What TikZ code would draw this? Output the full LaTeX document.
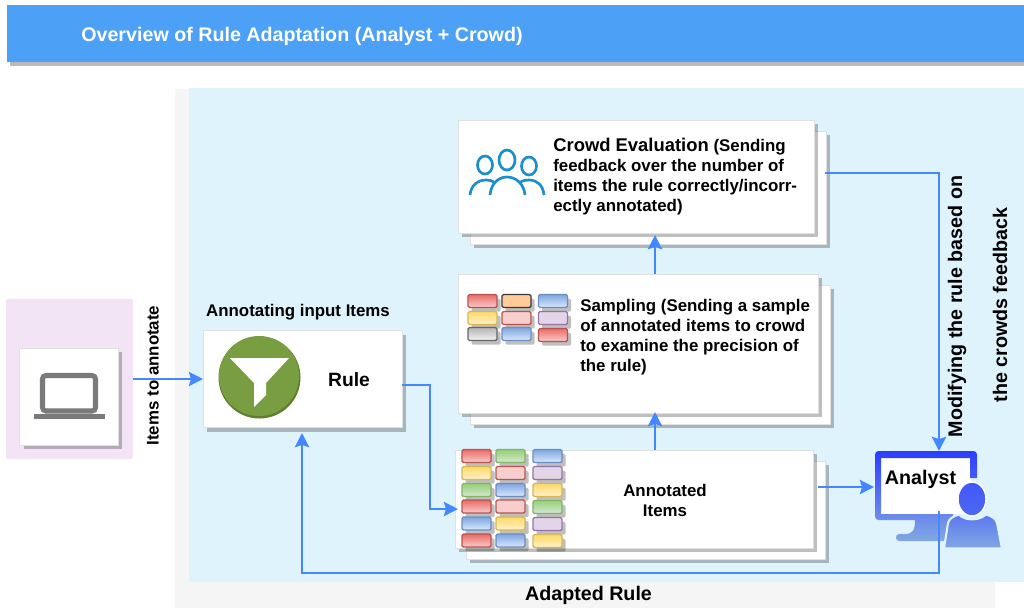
\documentclass[tikz,border=0pt]{standalone}
\usepackage{fontspec}
\setmainfont{Liberation Sans}
\usepackage{xcolor}
\usetikzlibrary{arrows.meta,positioning,shadows,calc}

\definecolor{headblue}{HTML}{4CA0F5}
\definecolor{areablue}{HTML}{DFF3FD}
\definecolor{areapurple}{HTML}{F2E4F5}
\definecolor{flowblue}{HTML}{4488FF}
\definecolor{iconblue}{HTML}{1B8FCB}
\definecolor{laptopgrey}{HTML}{7A7A7A}
\definecolor{funnelgreen}{HTML}{799E41}
\definecolor{funneldark}{HTML}{5F7F30}
\definecolor{screentop}{HTML}{2B3DFF}
\definecolor{screenbottom}{HTML}{82A8E2}
\definecolor{redline}{HTML}{B85450}
\definecolor{redtop}{HTML}{EA6B66}
\definecolor{redlow}{HTML}{F8CECC}
\definecolor{yellowline}{HTML}{D6B656}
\definecolor{yellowtop}{HTML}{FFD966}
\definecolor{yellowlow}{HTML}{FFF2CC}
\definecolor{greenline}{HTML}{82B366}
\definecolor{greentop}{HTML}{97D077}
\definecolor{greenlow}{HTML}{D5E8D4}
\definecolor{blueline}{HTML}{6C8EBF}
\definecolor{bluetop}{HTML}{7EA6E0}
\definecolor{bluelow}{HTML}{DAE8FC}
\definecolor{purpleline}{HTML}{9673A6}
\definecolor{purplelow}{HTML}{E1D5E7}
\definecolor{orangeline}{HTML}{36393D}
\definecolor{orangelow}{HTML}{FFCC99}
\definecolor{greyline}{HTML}{666666}
\definecolor{greytop}{HTML}{B3B3B3}
\definecolor{greylow}{HTML}{F5F5F5}

\begin{document}
\begin{tikzpicture}[
  x=0.025cm, y=-0.025cm,
  panel/.style={rectangle, draw=black!12, fill=white, line width=0.7pt, inner sep=0pt,
    general shadow={fill=black, opacity=0.25, shadow xshift=2.5pt, shadow yshift=-3pt}},
  chip/.style={rectangle, rounded corners=1pt, line width=0.9pt, inner sep=0pt,
    minimum width=0.725cm, minimum height=0.325cm,
    general shadow={fill=black, opacity=0.25, shadow xshift=2.5pt, shadow yshift=-3pt}},
  redchip/.style={chip, draw=redline, top color=redtop, bottom color=redlow},
  pinkchip/.style={chip, draw=redline, fill=redlow},
  yellowchip/.style={chip, draw=yellowline, top color=yellowtop, bottom color=yellowlow},
  greenchip/.style={chip, draw=greenline, top color=greentop, bottom color=greenlow},
  bluechip/.style={chip, draw=blueline, top color=bluetop, bottom color=bluelow},
  purplechip/.style={chip, draw=purpleline, fill=purplelow},
  orangechip/.style={chip, draw=orangeline, fill=orangelow},
  greychip/.style={chip, draw=greyline, top color=greytop, bottom color=greylow},
  label/.style={font=\fontsize{12}{14.2}\selectfont\bfseries, align=center},
  blurb/.style={font=\fontsize{12}{14.2}\selectfont\bfseries, align=left, anchor=west, inner sep=0pt},
  arrow/.style={-{Stealth[length=10pt,width=10pt,inset=1.5pt]}, draw=flowblue, line width=1.9pt}
]
\useasboundingbox (0,0) rectangle (1024,608);

% Backgrounds
\node[rectangle, fill=black!4, minimum width=20.5cm, minimum height=12.975cm, inner sep=0pt] (greyarea) at (585,348.5) {};
\node[rectangle, fill=areablue, minimum width=20.875cm, minimum height=12.35cm, inner sep=0pt] (bluearea) at (606.5,335) {};
\node[rectangle, fill=areapurple, rounded corners=1pt, minimum width=3.175cm, minimum height=4cm, inner sep=0pt] (sourcearea) at (69.5,379) {};

% Title
\node[rectangle, fill=headblue, minimum width=25.425cm, minimum height=1.425cm, inner sep=0pt,
  general shadow={fill=black, opacity=0.27, shadow xshift=2.5pt, shadow yshift=-3pt}] (header) at (515.5,33.5) {};
\node[anchor=west, inner sep=0pt, text=white, font=\fontsize{14}{16}\selectfont\bfseries] (title) at (81,36) {Overview of Rule Adaptation (Analyst + Crowd)};

% Laptop
\node[panel, minimum width=2.45cm, minimum height=2.425cm] (source) at (69,396.5) {};
\draw[laptopgrey, line width=3.6pt, rounded corners=2.5pt] (42.5,375.5) rectangle (95.5,411);
\fill[laptopgrey] (34,414) rectangle (105,419);

% Rule
\node[panel, minimum width=4.95cm, minimum height=2.425cm] (rule) at (303,379) {};
\fill[funneldark] (259.5,377.5) circle (41);
\fill[funnelgreen] (259,376) circle (40);
\fill[white] (230,358) -- (289,358) -- (266,383) -- (266,395) -- (254,407) -- (254,383) -- cycle;
\node[label, font=\fontsize{13.7}{16}\selectfont\bfseries] (ruletext) at (349,379.5) {Rule};
\node[label] (ruletitle) at (298,312) {Annotating input Items};

% Crowd evaluation
\node[panel, minimum width=8.875cm, minimum height=2.825cm] (crowdback) at (648.5,187.5) {};
\node[panel, minimum width=8.875cm, minimum height=2.825cm] (crowd) at (636.5,176.5) {};
\node[blurb] (crowdtext) at (553,177) {{\fontsize{13.1}{14.2}\selectfont Crowd Evaluation} (Sending\\feedback over the number of\\items the rule correctly/incorr-\\ectly annotated)};
\begin{scope}[iconblue, line width=1.9pt]
  \draw (507,160) ellipse (8 and 10);
  \draw (485,165) ellipse (7.5 and 9);
  \draw (529,166) ellipse (7.5 and 9);
  \draw (470,195) .. controls (471,185) and (478,180) .. (486,180) .. controls (489,180) and (491,180.5) .. (494,182);
  \draw (490,195) .. controls (491,184) and (498,177) .. (507,177) .. controls (516,177) and (524,184) .. (525,195);
  \draw (520,182) .. controls (523,180.5) and (526,180) .. (529,180) .. controls (537,180) and (543,185) .. (544,195);
\end{scope}

% Sampling
\node[panel, minimum width=8.975cm, minimum height=3.475cm] (samplingback) at (650.5,354.5) {};
\node[panel, minimum width=8.975cm, minimum height=3.475cm] (sampling) at (638.5,343.5) {};
\node[blurb] (samplingtext) at (580,337) {Sampling (Sending a sample\\of annotated items to crowd\\to examine the precision of\\the rule)};
\foreach \cx/\cy/\kind [count=\i] in {
  482.5/301/redchip, 516.5/301/orangechip, 553/301/bluechip,
  482.5/318/yellowchip, 516.5/318/pinkchip, 553/318/purplechip,
  482.5/334/greychip, 516.5/334/bluechip, 553/335/redchip}
  \node[\kind] (samplechip\i) at (\cx,\cy) {};

% Annotated items
\node[panel, minimum width=8.95cm, minimum height=2.45cm] (annotatedback) at (646,510) {};
\node[panel, minimum width=8.95cm, minimum height=2.45cm] (annotated) at (634.5,499) {};
\node[label] (annotatedtext) at (665,500) {Annotated\\Items};
\foreach \cx/\cy/\kind [count=\i] in {
  476.5/456/redchip, 510.5/456/greenchip, 547.5/456/bluechip,
  476.5/473/yellowchip, 510.5/473/pinkchip, 547.5/473/purplechip,
  476.5/490/greenchip, 510.5/490/bluechip, 547.5/490/yellowchip,
  476.5/506.5/redchip, 510.5/506.5/pinkchip, 547.5/507/greenchip,
  476.5/523.5/bluechip, 510.5/523.5/yellowchip, 547.5/524/purplechip,
  476.5/540.5/redchip, 510.5/540.5/bluechip, 547.5/541/yellowchip}
  \node[\kind] (annotatedchip\i) at (\cx,\cy) {};

% Analyst
\fill[white] (881,458) rectangle (972,514);
\shade[top color=screentop, bottom color=screenbottom]
  [rounded corners=2.5pt] (977,478) -- (977,451) -- (875,451) -- (875,520) [sharp corners] -- (953,520) -- (953,514) -- (881,514) -- (881,458) -- (970,458) -- (970,478) -- cycle
  (915,520) .. controls (915,530) and (913,534) .. (905,534) -- (899,534) .. controls (895,534) and (895,541) .. (899,541) -- (948,541) -- (948,520) -- cycle;
\shade[top color=screentop!75!screenbottom, bottom color=screentop!60!screenbottom, draw=white, line width=1pt]
  (972,499) ellipse (14 and 17);
\shade[top color=screentop!45!screenbottom, bottom color=screenbottom, draw=areablue, line width=1.5pt]
  (944,548.5) -- (948,523) .. controls (949,519) and (953,516) .. (959,514.5) .. controls (965,521) and (979,521) .. (986,514.5) .. controls (992,516) and (996,519) .. (997,523) -- (1002,548.5) -- cycle;
\node[label, font=\fontsize{14}{16}\selectfont\bfseries, inner sep=0pt] (analyst) at (920.5,479.5) {Analyst};

% Connection points
\coordinate (sourceout) at (133,379);
\coordinate (rulein) at (203,379);
\coordinate (ruleout) at (402,385);
\coordinate (annotatedin) at (458,509);
\coordinate (annotatedout) at (818,487);
\coordinate (analystin) at (874,487);
\coordinate (crowdout) at (825,173);
\coordinate (analysttop) at (939,451);
\coordinate (analystout) at (939,511);
\coordinate (adaptedturn) at (939,573);
\coordinate (ruleunder) at (302,433);

% Arrows
\draw[arrow] (sourceout) -- (rulein);
\draw[arrow] (ruleout) -- ++(28,0) |- (annotatedin);
\draw[arrow] (annotated.north -| 655,0) -- (655,412);
\draw[arrow] (sampling.north -| 655,0) -- (655,235);
\draw[arrow] (annotatedout) -- (analystin);
\draw[arrow] (crowdout) -| (analysttop);
\draw[arrow] (analystout) -- (adaptedturn) -| (ruleunder);

% Edge labels
\node[label, rotate=90] (itemslabel) at (153,375.5) {Items to annotate};
\node[label, font=\fontsize{14}{16}\selectfont\bfseries, rotate=90] (modifylabel) at (957,306.5) {Modifying the rule based on};
\node[label, font=\fontsize{14}{16}\selectfont\bfseries, rotate=90] (feedbacklabel) at (1000,305) {the crowds feedback};
\node[label, font=\fontsize{14}{16}\selectfont\bfseries] (adaptedlabel) at (588.5,595.5) {Adapted Rule};

\end{tikzpicture}
\end{document}
